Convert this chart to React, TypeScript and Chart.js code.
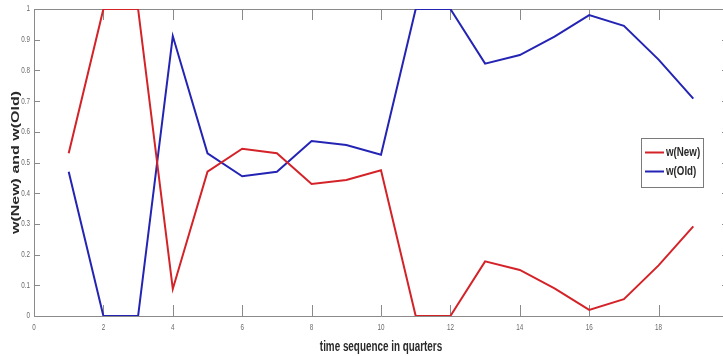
import React, { useEffect, useRef } from "react";
import { Chart, registerables } from "chart.js";

Chart.register(...registerables);

const quarters = [1, 2, 3, 4, 5, 6, 7, 8, 9, 10, 11, 12, 13, 14, 15, 16, 17, 18, 19];
const wNew = [0.53, 1, 1, 0.088, 0.47, 0.545, 0.53, 0.43, 0.443, 0.475, 0, 0, 0.178, 0.15, 0.09, 0.02, 0.055, 0.165, 0.292];
const wOld = [0.47, 0, 0, 0.912, 0.53, 0.455, 0.47, 0.57, 0.557, 0.525, 1, 1, 0.822, 0.85, 0.91, 0.98, 0.945, 0.835, 0.708];
const seriesLabels = ["w(New)", "w(Old)"];
const seriesColors = ["#d42328", "#2424b4"];
const xTitle = "time sequence in quarters";
const yTitle = "w(New) and w(Old)";

const SANS = "'Liberation Sans', Arial, sans-serif";

// draw text horizontally condensed (image is squeezed horizontally)
function squeezed(ctx: any, text: string, x: number, y: number, font: string, align: string, sx: number, color: string) {
  ctx.save();
  ctx.translate(x, y);
  ctx.scale(sx, 1);
  ctx.font = font;
  ctx.textAlign = align;
  ctx.textBaseline = "middle";
  ctx.fillStyle = color;
  ctx.fillText(text, 0, 0);
  ctx.restore();
}

const fmt = (v: number) => String(Number(v.toFixed(1)));

const frame = {
  id: "frame",
  beforeDatasetsDraw(chart: any) {
    const { ctx, chartArea, scales } = chart;
    const { left, right, top, bottom } = chartArea;
    ctx.save();
    ctx.strokeStyle = "#8a8a8a";
    ctx.lineWidth = 1;
    ctx.beginPath();
    ctx.moveTo(left + 0.5, top + 0.5);
    ctx.lineTo(right + 0.5, top + 0.5);
    ctx.lineTo(right + 0.5, bottom + 0.5);
    ctx.lineTo(left + 0.5, bottom + 0.5);
    ctx.closePath();
    ctx.stroke();
    ctx.beginPath();
    scales.x.ticks.forEach((t: any) => {
      const px = Math.round(scales.x.getPixelForValue(t.value)) + 0.5;
      ctx.moveTo(px, bottom);
      ctx.lineTo(px, bottom - 11);
      ctx.moveTo(px, top);
      ctx.lineTo(px, top + 11);
    });
    scales.y.ticks.forEach((t: any) => {
      const py = Math.round(scales.y.getPixelForValue(t.value)) + 0.5;
      ctx.moveTo(left, py);
      ctx.lineTo(left + 6, py);
      ctx.moveTo(right - 6, py);
      ctx.lineTo(right, py);
    });
    ctx.stroke();
    ctx.restore();

    // tick labels
    scales.x.ticks.forEach((t: any) => {
      if (t.value >= 20) return;
      squeezed(ctx, String(t.value), scales.x.getPixelForValue(t.value), bottom + 12, `9px ${SANS}`, "center", 0.7, "#6a6a6a");
    });
    scales.y.ticks.forEach((t: any) => {
      squeezed(ctx, fmt(t.value), left - 4, scales.y.getPixelForValue(t.value), `9px ${SANS}`, "right", 0.7, "#6a6a6a");
    });

    // axis titles
    squeezed(ctx, xTitle, (left + right) / 2, 347, `bold 14px ${SANS}`, "center", 0.705, "#2a2a2a");
    ctx.save();
    ctx.translate(16, (top + bottom) / 2);
    ctx.scale(0.7, 1);
    ctx.rotate(-Math.PI / 2);
    ctx.font = `bold 16px ${SANS}`;
    ctx.textAlign = "center";
    ctx.textBaseline = "middle";
    ctx.fillStyle = "#2a2a2a";
    ctx.fillText(yTitle, 0, 0);
    ctx.restore();
  },
  afterDraw(chart: any) {
    const { ctx } = chart;
    const bx = 641;
    const by = 138;
    const bw = 62;
    const bh = 49;
    ctx.save();
    ctx.fillStyle = "#ffffff";
    ctx.fillRect(bx, by, bw, bh);
    ctx.strokeStyle = "#7a7a7a";
    ctx.lineWidth = 1;
    ctx.strokeRect(bx + 0.5, by + 0.5, bw, bh);
    chart.data.datasets.forEach((ds: any, i: number) => {
      const cy = by + 14.5 + i * 19;
      ctx.strokeStyle = ds.borderColor;
      ctx.lineWidth = 2;
      ctx.beginPath();
      ctx.moveTo(bx + 4, cy);
      ctx.lineTo(bx + 23, cy);
      ctx.stroke();
      squeezed(ctx, ds.label, bx + 25, cy, `bold 13px ${SANS}`, "left", 0.75, "#2a2a2a");
    });
    ctx.restore();
  },
};

export default function App() {
  const ref = useRef<HTMLCanvasElement>(null);
  useEffect(() => {
    if (!ref.current) return;
    const chart = new Chart(ref.current, {
      type: "line",
      data: {
        datasets: [
          {
            label: seriesLabels[0],
            data: quarters.map((q, i) => ({ x: q, y: wNew[i] })),
            borderColor: seriesColors[0],
            backgroundColor: seriesColors[0],
            borderWidth: 2,
            pointRadius: 0,
            tension: 0,
          },
          {
            label: seriesLabels[1],
            data: quarters.map((q, i) => ({ x: q, y: wOld[i] })),
            borderColor: seriesColors[1],
            backgroundColor: seriesColors[1],
            borderWidth: 2,
            pointRadius: 0,
            tension: 0,
          },
        ],
      },
      options: {
        responsive: false,
        animation: false,
        events: [],
        layout: { padding: { left: 0, right: 12, top: 9, bottom: 0 } },
        plugins: { legend: { display: false }, tooltip: { enabled: false } },
        scales: {
          x: {
            type: "linear",
            min: 0,
            max: 20,
            afterFit: (s: any) => {
              s.height = 40;
            },
            grid: { display: false, drawTicks: false },
            border: { display: false },
            ticks: { display: false, stepSize: 2 },
            title: { display: false, text: xTitle },
          },
          y: {
            type: "linear",
            min: 0,
            max: 1,
            afterFit: (s: any) => {
              s.width = 34;
            },
            grid: { display: false, drawTicks: false },
            border: { display: false },
            ticks: { display: false, stepSize: 0.1 },
            title: { display: false, text: yTitle },
          },
        },
      },
      plugins: [frame],
    });
    return () => chart.destroy();
  }, []);
  return (
    <div style={{ position: "fixed", left: 0, top: 0, width: 723, height: 356, overflow: "hidden", background: "#fff" }}>
      <canvas ref={ref} width={740} height={356} style={{ display: "block" }} />
    </div>
  );
}
